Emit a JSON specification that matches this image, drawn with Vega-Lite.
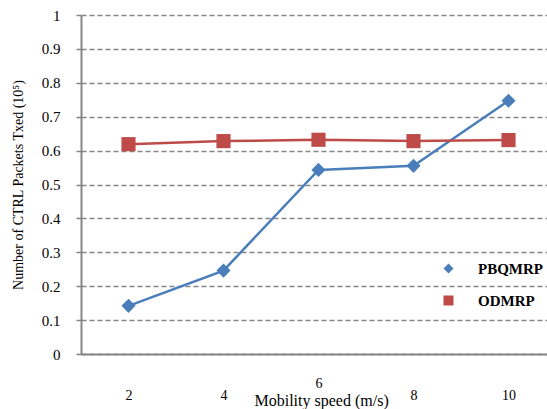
{
  "$schema": "https://vega.github.io/schema/vega-lite/v6.json",
  "autosize": {"type": "none"},
  "padding": {"left": 81, "top": 15, "right": 0, "bottom": 55},
  "width": 475,
  "height": 339,
  "background": "white",
  "config": {"view": {"stroke": null}, "font": "Liberation Serif"},
  "data": {"values": [
    {"speed": 2, "series": "PBQMRP", "value": 0.142},
    {"speed": 4, "series": "PBQMRP", "value": 0.246},
    {"speed": 6, "series": "PBQMRP", "value": 0.543},
    {"speed": 8, "series": "PBQMRP", "value": 0.555},
    {"speed": 10, "series": "PBQMRP", "value": 0.747},
    {"speed": 2, "series": "ODMRP", "value": 0.619},
    {"speed": 4, "series": "ODMRP", "value": 0.628},
    {"speed": 6, "series": "ODMRP", "value": 0.632},
    {"speed": 8, "series": "ODMRP", "value": 0.628},
    {"speed": 10, "series": "ODMRP", "value": 0.631}
  ]},
  "encoding": {
    "x": {"field": "speed", "type": "quantitative",
      "scale": {"domain": [1, 11], "nice": false, "zero": false},
      "axis": {"values": [2, 4, 6, 8, 10], "grid": false, "ticks": false,
        "domainColor": "#868686", "domainWidth": 2,
        "labelFont": "Liberation Serif", "labelFontSize": 14, "labelColor": "#000000",
        "labelPadding": {"condition": {"test": "datum.value === 6", "value": 22}, "value": 34},
        "title": "Mobility speed (m/s)", "titleFont": "Liberation Serif", "titleFontSize": 16,
        "titleFontWeight": "normal", "titleColor": "#000000",
        "titleAnchor": "start", "titleX": 173, "titleY": 51, "titleBaseline": "alphabetic"}},
    "y": {"field": "value", "type": "quantitative",
      "scale": {"domain": [0, 1], "nice": false},
      "axis": {"values": [0, 0.1, 0.2, 0.3, 0.4, 0.5, 0.6, 0.7, 0.8, 0.9, 1], "format": ".1~f",
        "grid": true, "gridColor": "#868686", "gridWidth": 1.5, "gridDash": [5, 3],
        "tickColor": "#868686", "tickSize": 5, "tickWidth": 1.5,
        "domainColor": "#868686", "domainWidth": 2,
        "labelFont": "Liberation Serif", "labelFontSize": 15, "labelColor": "#000000",
        "labelPadding": 16,
        "title": "Number of CTRL Packets Txed (10⁵)", "titleFont": "Liberation Serif",
        "titleFontSize": 14, "titleFontWeight": "normal", "titleColor": "#000000",
        "titlePadding": 16}},
    "color": {"field": "series", "type": "nominal",
      "scale": {"domain": ["PBQMRP", "ODMRP"], "range": ["#4A7EBB", "#BE4B48"]},
      "legend": {"orient": "none", "legendX": 360, "legendY": 246, "title": null,
        "labelFont": "Liberation Serif", "labelFontSize": 15, "labelFontWeight": "bold",
        "labelColor": "#000000", "rowPadding": 16, "labelOffset": 22, "symbolSize": 100,
        "symbolStrokeWidth": 0, "symbolOpacity": 1}},
    "shape": {"field": "series", "type": "nominal",
      "scale": {"domain": ["PBQMRP", "ODMRP"], "range": ["diamond", "square"]}}
  },
  "layer": [
    {"mark": {"type": "line", "strokeWidth": 2.5}},
    {"mark": {"type": "point", "filled": true, "size": 200, "opacity": 1}}
  ]
}
